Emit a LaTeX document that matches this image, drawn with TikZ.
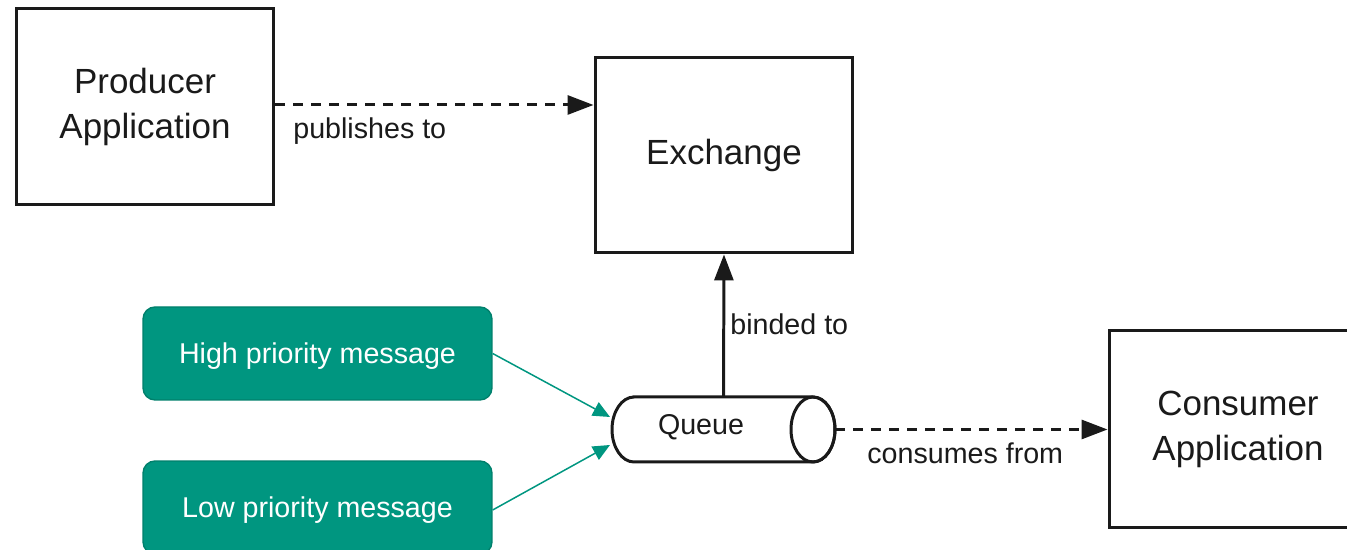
\documentclass[tikz,border=0pt]{standalone}
\usepackage{fontspec}
\setmainfont{Liberation Sans}
\usetikzlibrary{arrows.meta}
\definecolor{msgteal}{RGB}{0,150,128}
\definecolor{msgedge}{RGB}{0,128,108}
\definecolor{ink}{RGB}{26,26,26}
\begin{document}
\begin{tikzpicture}[x=0.02cm,y=0.02cm,
  appbox/.style={draw=ink, line width=1.7pt, fill=white, minimum width=5.16cm,
    minimum height=3.94cm, align=center, text=ink,
    font=\fontsize{19.9}{25.6}\selectfont},
  msgbox/.style={draw=msgedge, line width=0.8pt, fill=msgteal, rounded corners=0.24cm,
    minimum width=6.98cm, minimum height=1.86cm, text=white,
    text height=0.53cm, text depth=0.12cm,
    font=\fontsize{16.3}{20}\selectfont},
  lbl/.style={text=ink, font=\fontsize{16.3}{20}\selectfont, inner sep=0pt},
  flow/.style={draw=ink, line width=1.7pt, -{Triangle[length=0.52cm,width=0.38cm]}},
  dashflow/.style={flow, dash pattern=on 0.2cm off 0.16cm},
  feed/.style={draw=msgteal, line width=0.85pt, -{Triangle[length=0.34cm,width=0.3cm]}},
  qshape/.style={draw=none, minimum width=4.46cm, minimum height=1.3cm, inner sep=0pt}
]
\useasboundingbox (0,0) rectangle (1347,550);
\clip (0,0) rectangle (1347,550);

% application and exchange boxes
\node[appbox] (producer) at (145,443.5) {Producer\\Application};
\node[appbox, minimum height=3.92cm] (exchange) at (724,395) {Exchange};
\node[appbox, minimum height=3.96cm] (consumer) at (1238,121) {Consumer\\Application};

% message boxes
\node[msgbox] (high) at (317.5,196.5) {High priority message};
\node[msgbox] (low) at (317.5,42.5) {Low priority message};

% queue drawn as a horizontal cylinder
\node[qshape] (queue) at (723.5,120.5) {};
\draw[draw=ink, line width=1.7pt, fill=white]
  (634,153) -- (813,153)
  arc[start angle=90, end angle=-90, x radius=0.44cm, y radius=0.65cm]
  -- (634,88)
  arc[start angle=270, end angle=90, x radius=0.44cm, y radius=0.65cm] -- cycle;
\draw[draw=ink, line width=1.7pt] (813,120.5) ellipse [x radius=0.44cm, y radius=0.65cm];
\node[lbl] (queuetext) at (701,123) {Queue};

% connectors
\draw[dashflow] (producer.east |- 0,445) -- (exchange.west |- 0,445);
\node[lbl, anchor=west] (pubtext) at (293,419) {publishes to};

\draw[flow] (queue.north) -- (exchange.south);
\node[lbl, anchor=west] (bindtext) at (730,226) {binded to};

\draw[dashflow] (queue.east) -- (consumer.west |- queue.east);
\node[lbl, anchor=west] (constext) at (867,97) {consumes from};

\coordinate (qin1) at (610,133);
\coordinate (qin2) at (610,105);
\draw[feed] (high.east) -- (qin1);
\draw[feed] (low.east |- 0,40) -- (qin2);
\end{tikzpicture}
\end{document}
